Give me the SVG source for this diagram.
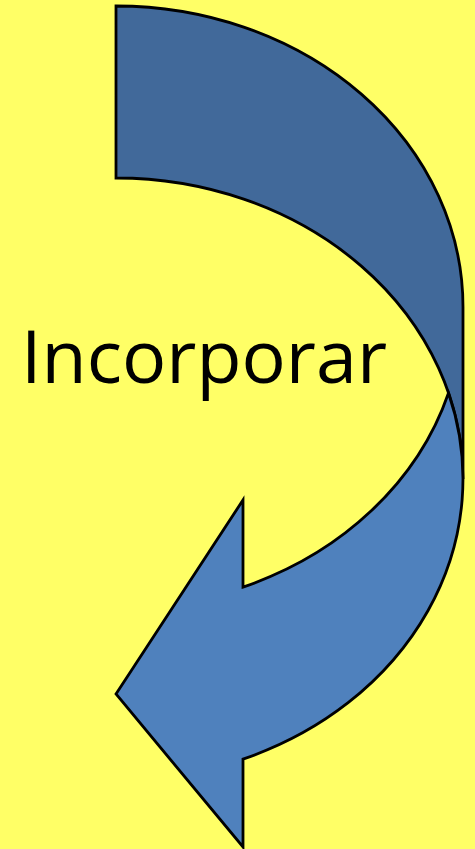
<svg xmlns="http://www.w3.org/2000/svg" width="475" height="849" viewBox="0 0 475 849">
  <style>
    .outline { stroke: #000000; stroke-width: 2.8; stroke-linejoin: miter; }
    .back { fill: #41699A; }
    .front { fill: #4F81BD; }
    .label { font-family: "Open Sans", "Liberation Sans", sans-serif; font-size: 73px; fill: #000000; }
  </style>
  <rect x="0" y="0" width="475" height="849" fill="#FFFF66"/>
  <g id="curved-arrow">
    <path class="back outline" d="M116,6 A347,301 0 0 1 463,307 L463,479 A347,301 0 0 0 116,178 Z"/>
    <path class="front outline" d="M116,694 L243,500 L243,587.1 A347,301 0 0 0 448.5,393 A347,301 0 0 1 243,759.1 L243,847 Z"/>
  </g>
  <g id="label">
    <text class="label" x="21" y="383" textLength="366" lengthAdjust="spacingAndGlyphs">Incorporar</text>
  </g>
</svg>
